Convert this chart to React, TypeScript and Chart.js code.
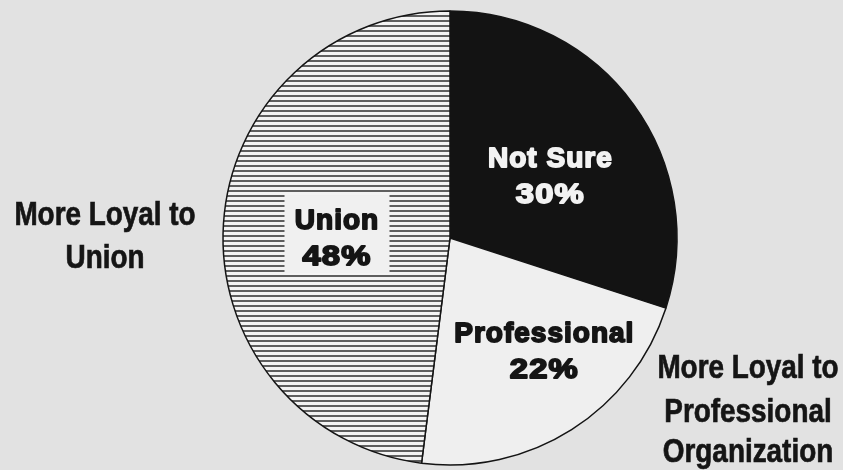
import React, { useEffect, useRef } from "react";
import { Chart, registerables } from "chart.js";

Chart.register(...registerables);

const categories = ["Not Sure", "Professional", "Union"];
const values = [30, 22, 48];
const valueLabels = ["30%", "22%", "48%"];
const leftCaption = ["More Loyal to", "Union"];
const rightCaption = ["More Loyal to", "Professional", "Organization"];

function makeHatch(): CanvasPattern | string {
  const c = document.createElement("canvas");
  c.width = 8;
  c.height = 5;
  const g = c.getContext("2d");
  if (!g) return "#aaaaaa";
  g.fillStyle = "#f3f3f3";
  g.fillRect(0, 0, 8, 5);
  g.fillStyle = "#5e5e5e";
  g.fillRect(0, 0, 8, 2);
  const p = g.createPattern(c, "repeat");
  return p || "#aaaaaa";
}

// placement of in-slice labels relative to each arc: fraction of radius, angle shift (deg)
const labelPlacement = [
  { frac: 0.52, shift: 3.8, color: "#f2f2f2", box: false },
  { frac: 0.643, shift: -7.6, color: "#151515", box: false },
  { frac: 0.5, shift: -3.1, color: "#151515", box: true },
];

export default function App() {
  const ref = useRef<HTMLCanvasElement | null>(null);

  useEffect(() => {
    const canvas = ref.current;
    if (!canvas) return;

    const bgPlugin = {
      id: "bg",
      beforeDraw(chart: any) {
        const ctx = chart.ctx;
        ctx.save();
        ctx.fillStyle = "#e2e2e2";
        ctx.fillRect(0, 0, chart.width, chart.height);
        ctx.restore();
      },
    };

    const labelPlugin = {
      id: "labels",
      afterDatasetsDraw(chart: any) {
        const ctx: CanvasRenderingContext2D = chart.ctx;
        const meta = chart.getDatasetMeta(0);
        ctx.save();
        meta.data.forEach((arc: any, i: number) => {
          const p = arc.getProps(["x", "y", "startAngle", "endAngle", "outerRadius"], true);
          const pl = labelPlacement[i];
          const mid = (p.startAngle + p.endAngle) / 2 + (pl.shift * Math.PI) / 180;
          const cx = p.x + Math.cos(mid) * p.outerRadius * pl.frac;
          const cy = p.y + Math.sin(mid) * p.outerRadius * pl.frac;
          if (pl.box) {
            ctx.fillStyle = "#f0f0f0";
            ctx.fillRect(cx - 52, cy - 42, 105, 78);
          }
          const gap = 36;
          const capH = 20;
          const lines = [categories[i], valueLabels[i]];
          lines.forEach((t, j) => {
            const by = cy + (j - 0.5) * gap + capH / 2;
            ctx.save();
            ctx.translate(cx + 0.5, by);
            if (j === 1) ctx.scale(1.17, 1);
            ctx.font = "bold 28px 'Liberation Sans', Arial, sans-serif";
            (ctx as any).letterSpacing = "1px";
            ctx.textAlign = "center";
            ctx.textBaseline = "alphabetic";
            ctx.fillStyle = pl.color;
            ctx.strokeStyle = pl.color;
            ctx.lineWidth = 1.8;
            ctx.lineJoin = "round";
            ctx.fillText(t, 0, 0);
            ctx.strokeText(t, 0, 0);
            (ctx as any).letterSpacing = "0px";
            ctx.restore();
          });
        });

        const drawCond = (t: string, x: number, y: number) => {
          ctx.save();
          ctx.translate(x, y);
          ctx.scale(0.82, 1);
          ctx.font = "bold 34px 'Liberation Sans', Arial, sans-serif";
          ctx.textAlign = "center";
          ctx.textBaseline = "alphabetic";
          ctx.fillStyle = "#151515";
          ctx.strokeStyle = "#151515";
          ctx.lineWidth = 0.7;
          ctx.fillText(t, 0, 0);
          ctx.strokeText(t, 0, 0);
          ctx.restore();
        };
        const lBase = [225, 268];
        leftCaption.forEach((t, j) => drawCond(t, 105, lBase[j]));
        const rBase = [378, 422, 462];
        rightCaption.forEach((t, j) => drawCond(t, 748, rBase[j]));
        ctx.restore();
      },
    };

    const chart = new Chart(canvas, {
      type: "pie",
      data: {
        labels: categories,
        datasets: [
          {
            data: values,
            backgroundColor: ["#131313", "#efefef", makeHatch() as any],
            borderColor: "#141414",
            borderWidth: 1.5,
          },
        ],
      },
      options: {
        responsive: false,
        animation: false,
        radius: 227,
        layout: { padding: { left: 57, right: 0, top: 6, bottom: 0 } },
        plugins: {
          legend: { display: false },
          tooltip: { enabled: false },
        },
      } as any,
      plugins: [bgPlugin, labelPlugin],
    });

    return () => chart.destroy();
  }, []);

  return (
    <div style={{ position: "fixed", left: 0, top: 0, width: 843, height: 470 }}>
      <canvas ref={ref} width={843} height={470} style={{ width: 843, height: 470, display: "block" }} />
    </div>
  );
}
